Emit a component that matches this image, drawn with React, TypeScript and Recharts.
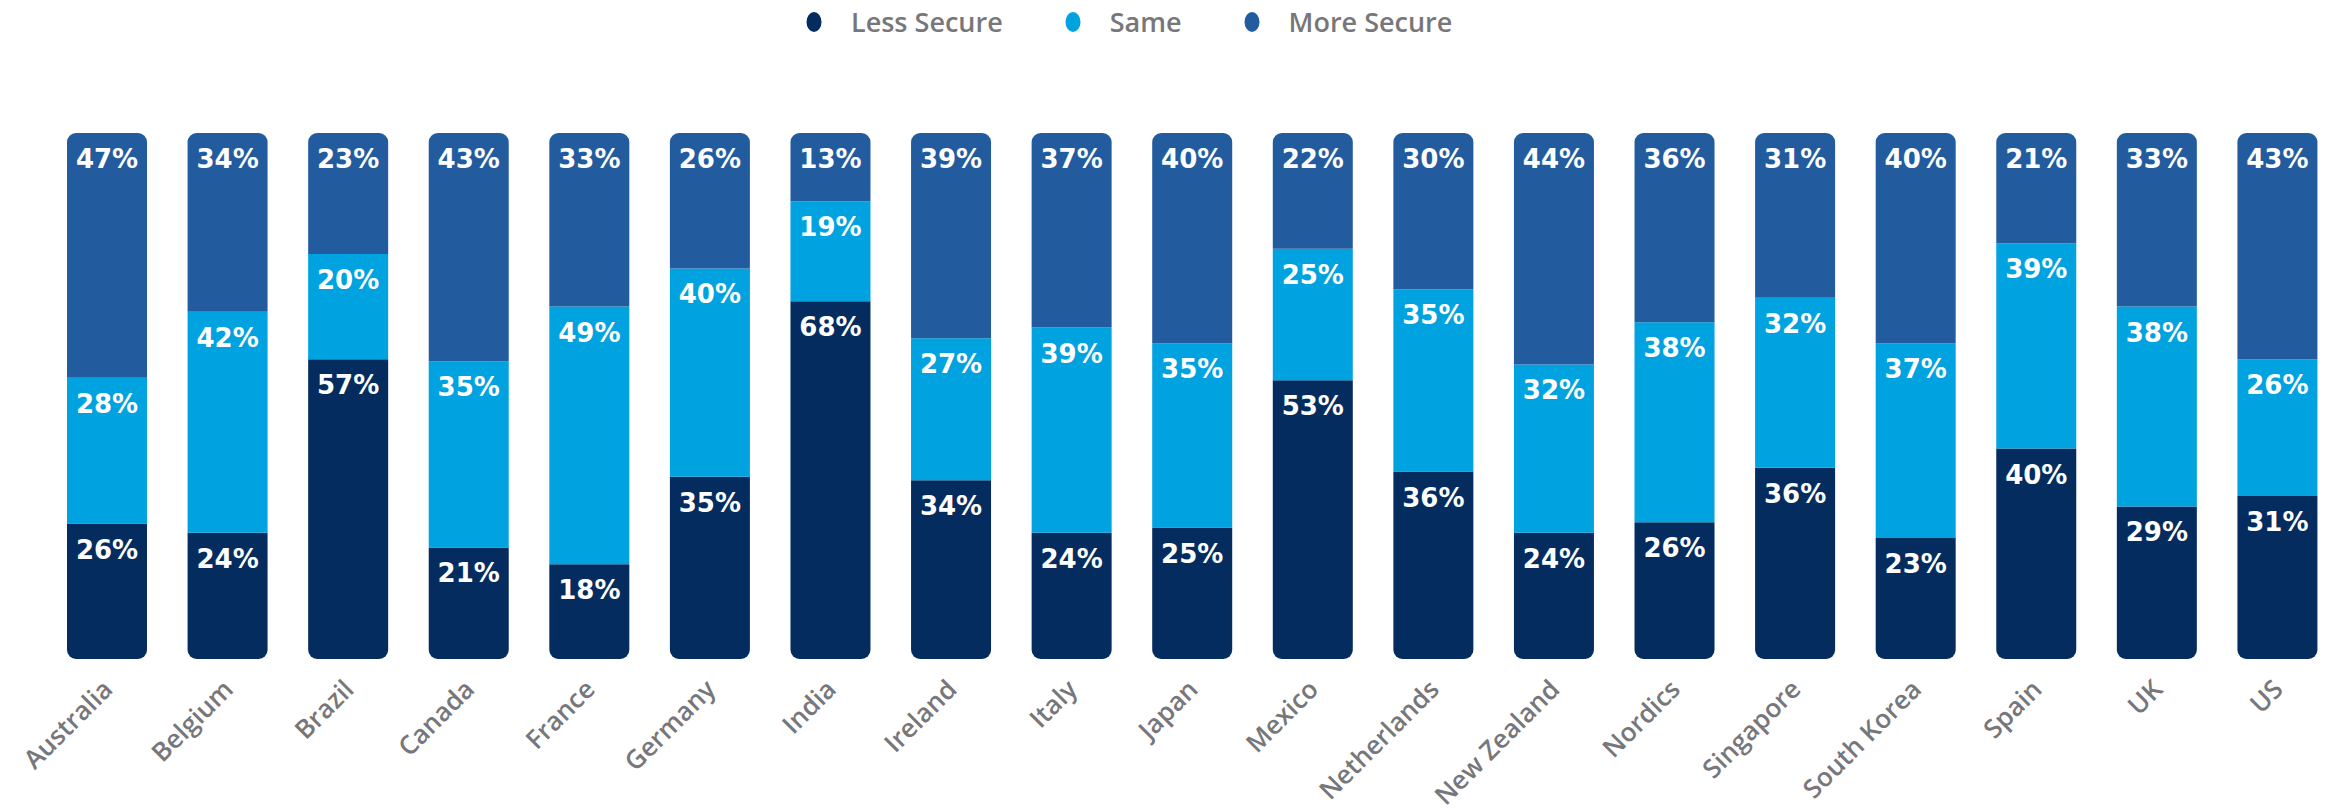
import { BarChart, Bar, XAxis, YAxis, Legend } from 'recharts';

const countries = [
  'Australia', 'Belgium', 'Brazil', 'Canada', 'France', 'Germany', 'India', 'Ireland', 'Italy', 'Japan',
  'Mexico', 'Netherlands', 'New Zealand', 'Nordics', 'Singapore', 'South Korea', 'Spain', 'UK', 'US',
];
const lessSecure = [26, 24, 57, 21, 18, 35, 68, 34, 24, 25, 53, 36, 24, 26, 36, 23, 40, 29, 31];
const same = [28, 42, 20, 35, 49, 40, 19, 27, 39, 35, 25, 35, 32, 38, 32, 37, 39, 38, 26];
const moreSecure = [47, 34, 23, 43, 33, 26, 13, 39, 37, 40, 22, 30, 44, 36, 31, 40, 21, 33, 43];

const COLORS = { less: '#042c5f', same: '#01a2e0', more: '#225c9f' };
const GRAY = '#77777b';

const data = countries.map((c, i) => ({
  country: c,
  less: lessSecure[i],
  same: same[i],
  more: moreSecure[i],
}));

const legendItems = [
  { name: 'Less Secure', color: COLORS.less },
  { name: 'Same', color: COLORS.same },
  { name: 'More Secure', color: COLORS.more },
];

function LegendContent() {
  return (
    <div style={{ position: 'relative', width: 2338, height: 0 }}>
      <div style={{ position: 'absolute', left: 806, top: 4, display: 'flex', alignItems: 'center' }}>
        {legendItems.map((it) => (
          <div key={it.name} style={{ display: 'flex', alignItems: 'center', marginRight: 62 }}>
            <svg width={16} height={22} style={{ marginRight: 29 }}>
              <ellipse cx={8} cy={11} rx={7.5} ry={10} fill={it.color} />
            </svg>
            <span style={{ fontFamily: '"Open Sans", sans-serif', fontWeight: 600, fontSize: 27, color: GRAY, lineHeight: '36px' }}>
              {it.name}
            </span>
          </div>
        ))}
      </div>
    </div>
  );
}

// labels sit near the top of each segment, raw value looked up by index
const makeLabel = (values: number[]) => (props: any) => {
  const { x, y, width, index } = props;
  return (
    <text
      x={Number(x) + Number(width) / 2}
      y={Number(y) + 26}
      fill="#ffffff"
      textAnchor="middle"
      dominantBaseline="central"
      style={{ fontFamily: '"DejaVu Sans", sans-serif', fontWeight: 700, fontSize: 26 }}
    >
      {values[index]}%
    </text>
  );
};

function CountryTick(props: any) {
  const { x, y, payload } = props;
  const tx = x + 7;
  const ty = y + 24;
  return (
    <text
      x={tx}
      y={ty}
      fill={GRAY}
      textAnchor="end"
      transform={`rotate(-45, ${tx}, ${ty})`}
      style={{ fontFamily: '"Open Sans", sans-serif', fontWeight: 600, fontSize: 26 }}
    >
      {payload.value}
    </text>
  );
}

export default function App() {
  return (
    <div style={{ position: 'absolute', left: 0, top: 0, width: 2326, height: 811, overflow: 'hidden', background: '#fff' }}>
      <BarChart
        width={2338}
        height={811}
        data={data}
        stackOffset="expand"
        margin={{ top: 133, right: 0, bottom: 0, left: 47 }}
      >
        <XAxis
          dataKey="country"
          interval={0}
          axisLine={false}
          tickLine={false}
          height={152}
          tick={<CountryTick />}
        />
        <YAxis hide domain={[0, 1]} />
        <Legend
          verticalAlign="top"
          content={<LegendContent />}
          wrapperStyle={{ top: 0, left: 0, width: 2338, height: 0, overflow: 'visible' }}
        />
        <Bar dataKey="less" name="Less Secure" stackId="a" fill={COLORS.less} barSize={80} radius={[0, 0, 9, 9]} isAnimationActive={false} label={makeLabel(lessSecure)} />
        <Bar dataKey="same" name="Same" stackId="a" fill={COLORS.same} barSize={80} isAnimationActive={false} label={makeLabel(same)} />
        <Bar dataKey="more" name="More Secure" stackId="a" fill={COLORS.more} barSize={80} radius={[9, 9, 0, 0]} isAnimationActive={false} label={makeLabel(moreSecure)} />
      </BarChart>
    </div>
  );
}
